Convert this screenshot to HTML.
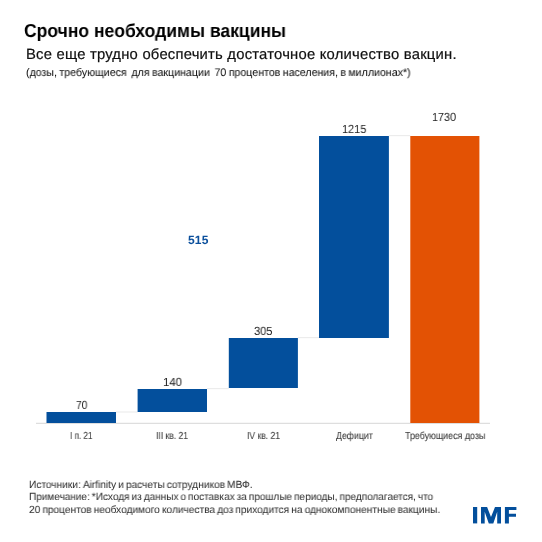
<!DOCTYPE html>
<html><head><meta charset="utf-8">
<style>
html,body{margin:0;padding:0;background:#fff;}
body{width:542px;height:542px;position:relative;overflow:hidden;font-family:"Liberation Sans",sans-serif;}
.t{position:absolute;white-space:nowrap;line-height:1;transform-origin:0 0;will-change:transform;text-rendering:geometricPrecision;}
svg{position:absolute;left:0;top:0;}
#sub{-webkit-text-stroke:0.2px #111;}
#f1,#f2,#f3{-webkit-text-stroke:0.05px #333;word-spacing:-0.8px;}
#c1,#c2,#c3,#c4,#c5{-webkit-text-stroke:0.1px #404040;}
#small{word-spacing:-0.6px;-webkit-text-stroke:0.05px #111;}

</style></head><body>
<svg width="542" height="542">
  <line x1="36" y1="423.4" x2="490" y2="423.4" stroke="#dedede" stroke-width="1.1"/>
  <g stroke="#ebebeb" stroke-width="1.1">
    <line x1="116" y1="412" x2="137.6" y2="412"/>
    <line x1="207" y1="388.6" x2="228.8" y2="388.6"/>
    <line x1="297.9" y1="337.6" x2="319" y2="337.6"/>
    <line x1="388.9" y1="135.6" x2="410.3" y2="135.6"/>
  </g>
  <g fill="#034f9c">
    <rect x="46.5" y="412" width="69.5" height="11"/>
    <rect x="137.6" y="389" width="69.4" height="23"/>
    <rect x="228.8" y="338" width="69.1" height="50"/>
    <rect x="319" y="136" width="69.9" height="202"/>
  </g>
  <rect x="410.3" y="136" width="69.1" height="287" fill="#e35204"/>
</svg>
<svg width="542" height="542">
  <g fill="#034f9c">
    <rect x="473" y="507" width="4.2" height="16.4"/>
    <path d="M481,507.1 L487.1,507.1 L491,516.9 L495,507.1 L501,507.1 L501,523.4 L497.2,523.4 L497.2,511.7 L493.3,523.4 L488.8,523.4 L484.7,511.7 L484.7,523.4 L481,523.4 Z"/>
    <path d="M504.9,507 L516.4,507 L516.4,509.9 L508.9,509.9 L508.9,513.7 L516,513.7 L516,516.8 L508.9,516.8 L508.9,523.4 L504.9,523.4 Z"/>
  </g>
</svg>
<div class="t" id="title" style="left:24.20px;top:21.68px;font-size:18.80px;font-weight:bold;color:#000;transform:scaleX(0.9329);">Срочно необходимы вакцины</div>
<div class="t" id="sub" style="left:26.20px;top:48.27px;font-size:14.80px;font-weight:normal;color:#111;letter-spacing:0.222px;">Все еще трудно обеспечить достаточное количество вакцин.</div>
<div class="t" id="small" style="left:26.30px;top:68.39px;font-size:11.00px;font-weight:normal;color:#111;transform:scaleX(0.9658);">(дозы, требующиеся&nbsp; для вакцинации&nbsp; 70 процентов населения, в миллионах*)</div>
<div class="t" id="v70" style="left:76.00px;top:399.51px;font-size:11.80px;font-weight:normal;color:#222;transform:scaleX(0.8692);">70</div>
<div class="t" id="v140" style="left:162.93px;top:376.91px;font-size:11.80px;font-weight:normal;color:#222;transform:scaleX(0.9667);">140</div>
<div class="t" id="v305" style="left:254.20px;top:326.01px;font-size:11.80px;font-weight:normal;color:#222;transform:scaleX(0.9421);">305</div>
<div class="t" id="v1215" style="left:341.77px;top:124.11px;font-size:11.80px;font-weight:normal;color:#222;transform:scaleX(0.9280);">1215</div>
<div class="t" id="v1730" style="left:431.78px;top:112.11px;font-size:11.80px;font-weight:normal;color:#222;transform:scaleX(0.9160);">1730</div>
<div class="t" id="v515" style="left:187.90px;top:233.64px;font-size:12.00px;font-weight:bold;color:#0b4f9c;letter-spacing:0.150px;">515</div>
<div class="t" id="c1" style="left:69.80px;top:432.26px;font-size:10.20px;font-weight:normal;color:#404040;transform:scaleX(0.7964);">I п. 21</div>
<div class="t" id="c2" style="left:156.10px;top:432.36px;font-size:10.20px;font-weight:normal;color:#404040;transform:scaleX(0.8395);">III кв. 21</div>
<div class="t" id="c3" style="left:246.50px;top:432.36px;font-size:10.20px;font-weight:normal;color:#404040;transform:scaleX(0.8385);">IV кв. 21</div>
<div class="t" id="c4" style="left:335.70px;top:431.86px;font-size:10.20px;font-weight:normal;color:#404040;transform:scaleX(0.8581);">Дефицит</div>
<div class="t" id="c5" style="left:405.00px;top:432.36px;font-size:10.20px;font-weight:normal;color:#404040;transform:scaleX(0.8750);">Требующиеся дозы</div>
<div class="t" id="f1" style="left:29.00px;top:480.89px;font-size:10.40px;font-weight:normal;color:#333;transform:scaleX(0.9768);">Источники: Airfinity и расчеты сотрудников МВФ.</div>
<div class="t" id="f2" style="left:29.20px;top:493.19px;font-size:10.40px;font-weight:normal;color:#333;transform:scaleX(0.9649);">Примечание: *Исходя из данных о поставках за прошлые периоды, предполагается, что</div>
<div class="t" id="f3" style="left:29.00px;top:505.69px;font-size:10.40px;font-weight:normal;color:#333;transform:scaleX(0.9776);">20 процентов необходимого количества доз приходится на однокомпонентные вакцины.</div>
</body></html>
